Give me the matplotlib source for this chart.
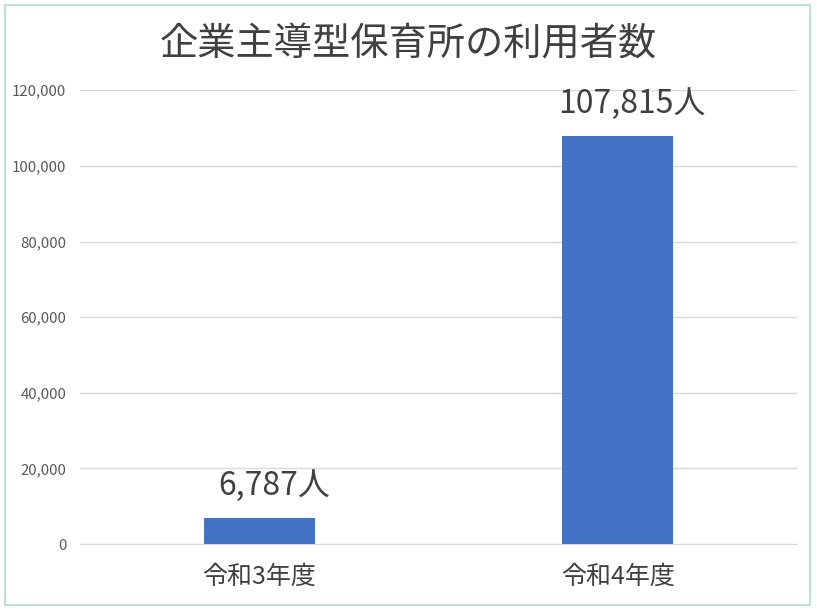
import matplotlib
matplotlib.use("Agg")
import matplotlib.pyplot as plt
from matplotlib.patches import Rectangle
from matplotlib.ticker import FuncFormatter

plt.rcParams['font.family'] = ['Noto Sans CJK JP', 'DejaVu Sans']

categories = ["令和3年度", "令和4年度"]
users = [6787, 107815]
yticks = [0, 20000, 40000, 60000, 80000, 100000, 120000]

fig = plt.figure(figsize=(8.17, 6.1), dpi=100)
ax = fig.add_axes([0.098, 0.108, 0.8775, 0.744])

x = range(len(categories))
ax.bar(x, users, width=0.31, color="#4472C4", zorder=3)
ax.set_xlim(-0.5, 1.5)
ax.set_ylim(0, 120000)
ax.set_yticks(yticks)
ax.yaxis.set_major_formatter(FuncFormatter(lambda v, p: f"{int(v):,}"))
ax.grid(axis="y", color="#D9D9D9", linewidth=1, zorder=0)
for s in ax.spines.values():
    s.set_visible(False)
ax.spines["bottom"].set_visible(True)
ax.spines["bottom"].set_color("#D9D9D9")
ax.tick_params(axis="y", length=0, labelsize=10.8, labelcolor="#595959", pad=10)
ax.tick_params(axis="x", length=0, labelsize=18, labelcolor="#404040", pad=14)
ax.set_xticks(list(x))
ax.set_xticklabels(categories)

# labels sit a little to the right of the bar centre in the original
for i, v in enumerate(users):
    ax.annotate(f"{v:,}人", (i, v), xytext=(10.5, 12), textcoords="offset points",
                ha="center", va="bottom", fontsize=23, color="#404040")

fig.text(0.5, 0.926, "企業主導型保育所の利用者数", ha="center", va="center",
         fontsize=27.5, color="#404040")

fig.patches.append(Rectangle((0.006, 0.008), 0.986, 0.984, transform=fig.transFigure,
                             fill=False, edgecolor="#BFE0DA", linewidth=1.5))

fig.savefig("out.png", dpi=100)
